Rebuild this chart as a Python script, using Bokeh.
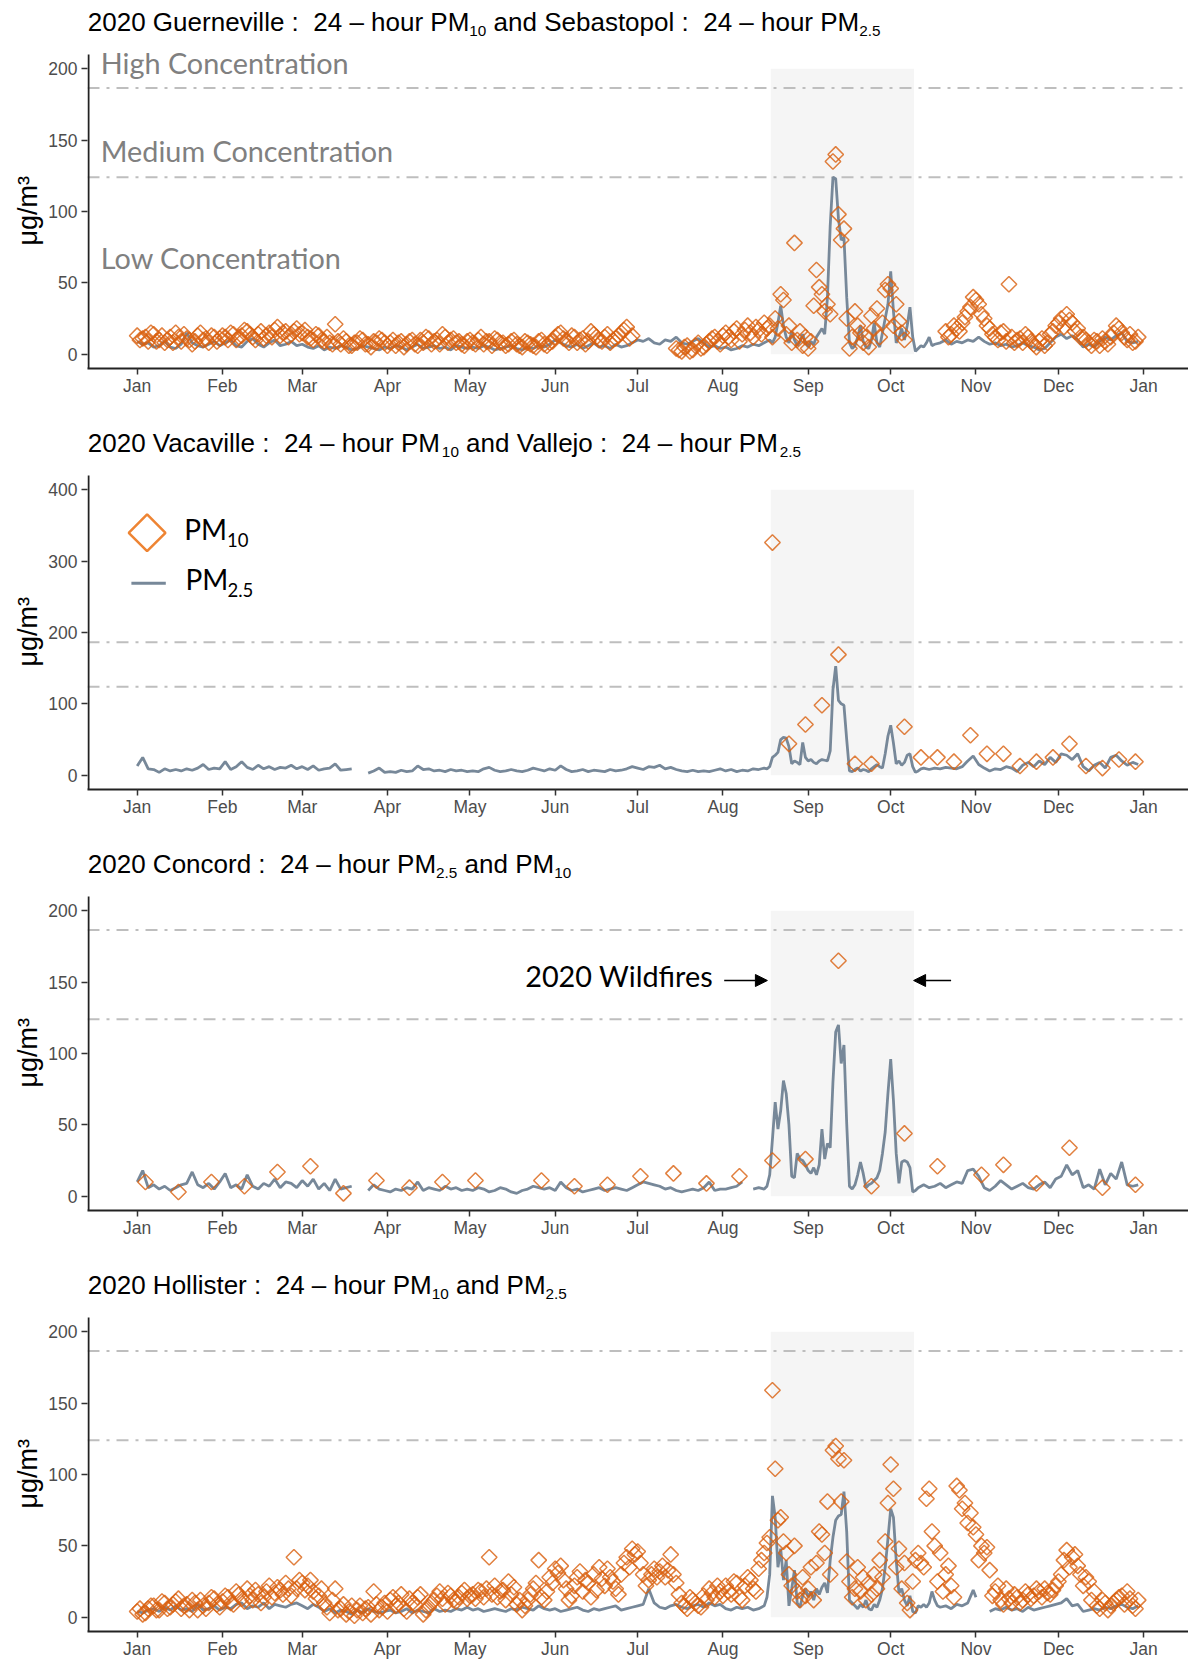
import math
from bokeh.plotting import figure
from bokeh.layouts import column
from bokeh.models import Range1d, Span, BoxAnnotation, Label, Arrow, NormalHead, FixedTicker
from bokeh.embed import file_html
from bokeh.resources import INLINE

NAN = float("nan")

# ---------------- axis categories / reference values ----------------
month_start_days = [0, 31, 60, 91, 121, 152, 182, 213, 244, 274, 305, 335, 366]
month_labels = ["Jan", "Feb", "Mar", "Apr", "May", "Jun", "Jul", "Aug", "Sep", "Oct", "Nov", "Dec", "Jan"]
ticks_200 = [0, 50, 100, 150, 200]
ticks_400 = [0, 100, 200, 300, 400]
high_threshold = 186.5
medium_threshold = 124.0
wildfire_start_day = 230.4
wildfire_end_day = 282.5

# ---------------- series: (day of year 2020, ug/m3) ----------------
sebastopol_pm25 = [
    (0, 9), (2, 7), (4, 8), (6, 5), (8, 6), (10, 9), (12, 5), (14, 4), (16, 7), (18, 15), (20, 8), (22, 6), (24, 5), (26, 7), (28, 9), (30, 6),
    (32, 8), (34, 10), (36, 6), (38, 5), (40, 9), (42, 11), (44, 7), (46, 5), (48, 8), (50, 10), (52, 6), (54, 7), (56, 9), (58, 6),
    (60, 7), (62, 5), (64, 4), (66, 6), (68, 3), (70, 5), (72, 4), (74, 6), (76, 5), (78, 3), (80, 4), (82, 6), (84, 5), (86, 4), (88, 3), (90, 5),
    (92, 4), (94, 6), (96, 5), (98, 3), (100, 5), (102, 7), (104, 4), (106, 5), (108, 6), (110, 4), (112, 5), (114, 3), (116, 6), (118, 5), (120, 4),
    (122, 5), (124, 4), (126, 6), (128, 5), (130, 3), (132, 4), (134, 5), (136, 6), (138, 4), (140, 3), (142, 5), (144, 4), (146, 6), (148, 5), (150, 7),
    (152, 10), (154, 8), (156, 6), (158, 5), (160, 7), (162, 4), (164, 6), (166, 8), (168, 5), (170, 6), (172, 4), (174, 7), (176, 5), (178, 6), (180, 8),
    (182, 10), (184, 9), (186, 11), (188, 8), (190, 7), (192, 10), (194, 9), (196, 12), (198, 8), (200, 7), (202, 9), (204, 11), (206, 8), (208, 5), (210, 6), (212, 4),
    (214, 5), (216, 3), (218, 4), (220, 6), (222, 5), (224, 7), (226, 6), (228, 8),
    (229, 9), (230, 10), (231, 8), (232, 12), (233, 22), (234, 34), (235, 20), (236, 12), (237, 8), (238, 16), (239, 10), (240, 6), (241, 9), (242, 14),
    (243, 8), (244, 5), (245, 9), (246, 7), (247, 12), (248, 15), (249, 18), (250, 14), (251, 40), (252, 90), (253, 124), (254, 123), (255, 95), (256, 80),
    (257, 82), (258, 40), (259, 8), (260, 4), (261, 6), (262, 12), (263, 20), (264, 9), (265, 5), (266, 4), (267, 10), (268, 22), (269, 8), (270, 5),
    (271, 15), (272, 25), (273, 35), (274, 58), (275, 30), (276, 8), (277, 12), (278, 18), (279, 10), (280, 20), (281, 33), (282, 12), (283, 2), (284, 4),
    (285, 6), (286, 5), (287, 8), (288, 12), (289, 6), (290, 7),
    (292, 8), (294, 10), (296, 7), (298, 9), (300, 8), (302, 10), (304, 9), (306, 12), (308, 9), (310, 7), (312, 8), (314, 6), (316, 7), (318, 5),
    (320, 6), (322, 8), (324, 6), (326, 5), (328, 3), (330, 4), (332, 8), (334, 12), (336, 14), (338, 11), (340, 13), (342, 10), (344, 5), (346, 7),
    (348, 5), (350, 9), (352, 12), (354, 10), (356, 13), (358, 15), (360, 9), (362, 8), (364, 9),
]

guerneville_pm10 = [
    (0, 13), (2, 11), (4, 9), (6, 14), (8, 10), (10, 8), (12, 12), (14, 15), (16, 9), (18, 11), (20, 7), (22, 13), (24, 10), (26, 8), (28, 12), (30, 11),
    (32, 12), (34, 15), (36, 10), (38, 13), (40, 16), (42, 12), (44, 14), (46, 11), (48, 15), (50, 17), (52, 13), (54, 16), (56, 14), (58, 18),
    (60, 15), (62, 12), (64, 10), (66, 13), (68, 9), (70, 8), (72, 21), (74, 7), (76, 9), (78, 6), (80, 8), (82, 10), (84, 7), (86, 9), (88, 11), (90, 8),
    (92, 8), (94, 6), (96, 9), (98, 7), (100, 10), (102, 6), (104, 8), (106, 11), (108, 9), (110, 7), (112, 12), (114, 10), (116, 8), (118, 7), (120, 9),
    (122, 8), (124, 10), (126, 7), (128, 9), (130, 11), (132, 8), (134, 6), (136, 9), (138, 7), (140, 5), (142, 8), (144, 6), (146, 9), (148, 7), (150, 8),
    (152, 12), (154, 15), (156, 10), (158, 13), (160, 8), (162, 11), (164, 9), (166, 14), (168, 10), (170, 12), (172, 8), (174, 11), (176, 15), (178, 19), (180, 13),
    (196, 4), (198, 2), (200, 6), (202, 3), (204, 8), (206, 5), (208, 9), (210, 12), (212, 7),
    (214, 15), (216, 10), (218, 18), (220, 14), (222, 20), (224, 12), (226, 17), (228, 22),
    (230, 20), (231, 12), (232, 25), (233, 18), (234, 42), (235, 38), (236, 14), (237, 20), (238, 8), (239, 78), (240, 10), (241, 16), (242, 6), (243, 12),
    (244, 4), (245, 9), (246, 34), (247, 59), (248, 47), (249, 42), (250, 30), (251, 35), (252, 28), (253, 135), (254, 140), (255, 98), (256, 80), (257, 88),
    (258, 25), (259, 4), (260, 12), (261, 30), (262, 20), (263, 15), (264, 8), (265, 12), (266, 5), (267, 27), (268, 18), (269, 32), (270, 12), (271, 22),
    (272, 45), (273, 49), (274, 46), (275, 20), (276, 35), (277, 23), (278, 15), (279, 10),
    (294, 16), (296, 14), (298, 18), (300, 22), (301, 26), (302, 30), (303, 33), (304, 40), (305, 38), (306, 35), (307, 28), (308, 25), (310, 18), (312, 12),
    (314, 15), (316, 9), (317, 49), (318, 12), (320, 10), (322, 8), (324, 12), (326, 7), (328, 9), (330, 6), (332, 14), (334, 20), (336, 25), (338, 28),
    (340, 22), (342, 18), (344, 12), (346, 8), (348, 10), (350, 6), (352, 9), (354, 12), (356, 20), (358, 15), (360, 10), (362, 8), (364, 12),
]

guerneville_pm10_odd_days = [
    (1, 10), (3, 12), (5, 15), (7, 9), (9, 13), (11, 10), (13, 8), (15, 12), (17, 14), (19, 10), (21, 9), (23, 15), (25, 11), (27, 13), (29, 9),
    (31, 13), (33, 10), (35, 14), (37, 12), (39, 17), (41, 14), (43, 10), (45, 16), (47, 13), (49, 12), (51, 19), (53, 15), (55, 12), (57, 16), (59, 14),
    (61, 17), (63, 11), (65, 14), (67, 10), (69, 12), (71, 7), (73, 9), (75, 11), (77, 6), (79, 8), (81, 11), (83, 7), (85, 5), (87, 8), (89, 10),
    (91, 6), (93, 10), (95, 8), (97, 5), (99, 9), (101, 7), (103, 10), (105, 12), (107, 7), (109, 10), (111, 14), (113, 8), (115, 11), (117, 9), (119, 6),
    (121, 10), (123, 7), (125, 12), (127, 9), (129, 6), (131, 10), (133, 8), (135, 7), (137, 10), (139, 6), (141, 9), (143, 7), (145, 5), (147, 10), (149, 6),
    (151, 9), (153, 14), (155, 11), (157, 8), (159, 12), (161, 10), (163, 7), (165, 16), (167, 12), (169, 9), (171, 14), (173, 10), (175, 13), (177, 17), (179, 11),
    (197, 3), (199, 5), (201, 2), (203, 6), (205, 4), (207, 7), (209, 11), (211, 9), (213, 13),
    (215, 12), (217, 16), (219, 9), (221, 17), (223, 15), (225, 19), (227, 14), (229, 18),
    (295, 12), (297, 20), (299, 16), (309, 20), (311, 14), (313, 10), (315, 16), (319, 8), (321, 11), (323, 14), (325, 9), (327, 5), (329, 11), (331, 8),
    (333, 16), (335, 22), (337, 19), (339, 24), (341, 16), (343, 12), (345, 10), (347, 6), (349, 9), (351, 11), (353, 7), (355, 15), (357, 18), (359, 12),
    (361, 14), (363, 9),
]

vallejo_pm25 = [
    (0, 13), (2, 25), (4, 9), (6, 8), (8, 4), (10, 9), (12, 6), (14, 8), (16, 6), (18, 9), (20, 7), (22, 10), (24, 15), (26, 8), (28, 10), (30, 9),
    (32, 19), (34, 8), (36, 12), (38, 19), (40, 11), (42, 8), (44, 14), (46, 9), (48, 12), (50, 8), (52, 11), (54, 10), (56, 14), (58, 9),
    (60, 12), (62, 8), (64, 13), (66, 7), (68, 9), (70, 10), (72, 16), (74, 7), (76, 8), (78, 9), (80, NAN), (84, 3), (86, 6), (88, 10), (90, 4),
    (92, 5), (94, 4), (96, 7), (98, 5), (100, 6), (102, 13), (104, 8), (106, 9), (108, 6), (110, 7), (112, 5), (114, 8), (116, 6), (118, 7), (120, 5),
    (122, 6), (124, 5), (126, 9), (128, 11), (130, 7), (132, 5), (134, 6), (136, 8), (138, 6), (140, 5), (142, 7), (144, 10), (146, 8), (148, 6), (150, 9),
    (152, 7), (154, 13), (156, 8), (158, 5), (160, 6), (162, 8), (164, 5), (166, 7), (168, 6), (170, 5), (172, 8), (174, 6), (176, 7), (178, 9), (180, 12),
    (182, 10), (184, 8), (186, 12), (188, 11), (190, 14), (192, 9), (194, 11), (196, 8), (198, 6), (200, 5), (202, 7), (204, 5), (206, 6), (208, 5), (210, 7), (212, 9),
    (214, 6), (216, 8), (218, 5), (220, 7), (222, 6), (224, 9), (226, 8), (228, 10),
    (229, 9), (230, 12), (231, 25), (232, 28), (233, 32), (234, 50), (235, 53), (236, 52), (237, 40), (238, 16), (239, 20), (240, 18), (241, 15), (242, 46),
    (243, 25), (244, 20), (245, 22), (246, 18), (247, 16), (248, 20), (249, 22), (250, 21), (251, 20), (252, 34), (253, 120), (254, 153), (255, 105), (256, 100),
    (257, 98), (258, 50), (259, 6), (260, 5), (261, 8), (262, 10), (263, 6), (264, 8), (265, 7), (266, 5), (267, 9), (268, 12), (269, 15), (270, 12),
    (271, 10), (272, 30), (273, 55), (274, 70), (275, 45), (276, 16), (277, 20), (278, 14), (279, 18), (280, 28), (281, 30), (282, 12), (283, 4), (284, 6),
    (285, 9), (286, 10),
    (288, 8), (290, 10), (292, 9), (294, 11), (296, 10), (298, 9), (300, 12), (302, 20), (304, 27), (306, 15), (308, 10), (310, 6), (312, 9), (314, 8),
    (316, 12), (318, 10), (320, 5), (322, 14), (324, 18), (326, 12), (328, 20), (330, 15), (332, 25), (334, 18), (336, 30), (338, 28), (340, 22), (342, 30),
    (344, 12), (346, 6), (348, 14), (350, 18), (352, 10), (354, 25), (356, 28), (358, 20), (360, 14), (362, 18), (364, 15),
]

vacaville_pm10 = [
    (231, 326), (237, 44), (243, 71), (249, 98), (255, 169), (261, 16), (267, 16), (279, 68), (285, 25), (291, 25), (297, 19),
    (303, 56), (309, 30), (315, 30), (321, 13), (327, 19), (333, 25), (339, 44), (345, 13), (351, 10), (357, 22), (363, 19),
]

concord_pm25 = [
    (0, 10), (2, 18), (4, 6), (6, 8), (8, 5), (10, 7), (12, 4), (14, 6), (16, 8), (18, 9), (20, 17), (22, 8), (24, 6), (26, 9), (28, 5), (30, 10),
    (32, 16), (34, 6), (36, 8), (38, 5), (40, 15), (42, 7), (44, 5), (46, 9), (48, 7), (50, 12), (52, 6), (54, 10), (56, 9), (58, 6),
    (60, 11), (62, 7), (64, 12), (66, 5), (68, 9), (70, 4), (72, 12), (74, 5), (76, 6), (78, 7), (80, NAN), (84, 4), (86, 8), (88, 5), (90, 4),
    (92, 3), (94, 5), (96, 4), (98, 6), (100, 5), (102, 10), (104, 4), (106, 6), (108, 5), (110, 4), (112, 7), (114, 5), (116, 6), (118, 4), (120, 5),
    (122, 4), (124, 6), (126, 5), (128, 3), (130, 4), (132, 6), (134, 5), (136, 3), (138, 2), (140, 4), (142, 5), (144, 7), (146, 6), (148, 5), (150, 6),
    (152, 4), (154, 10), (156, 6), (158, 4), (160, 5), (162, 3), (164, 4), (166, 5), (168, 6), (170, 4), (172, 5), (174, 6), (176, 5), (178, 4), (180, 6),
    (182, 8), (184, 10), (186, 9), (188, 8), (190, 7), (192, 5), (194, 6), (196, 4), (198, 3), (200, 4), (202, 5), (204, 4), (206, 6), (208, 10), (210, 4), (212, 5),
    (214, 5), (216, 6), (218, 7), (220, 10), (222, NAN), (224, 5), (226, 6), (228, 5),
    (229, 7), (230, 15), (231, 40), (232, 66), (233, 47), (234, 60), (235, 81), (236, 72), (237, 50), (238, 14), (239, 13), (240, 30), (241, 26), (242, 25),
    (243, 22), (244, 18), (245, 16), (246, 20), (247, 15), (248, 22), (249, 47), (250, 26), (251, 37), (252, 34), (253, 80), (254, 115), (255, 120), (256, 93),
    (257, 106), (258, 51), (259, 7), (260, 5), (261, 8), (262, 15), (263, 24), (264, 16), (265, 6), (266, 8), (267, 9), (268, 11), (269, 13), (270, 18),
    (271, 30), (272, 45), (273, 72), (274, 96), (275, 67), (276, 30), (277, 9), (278, 24), (279, 25), (280, 24), (281, 20), (282, 3), (283, 4), (284, 6),
    (286, 8), (288, 6), (290, 7), (292, 9), (294, 6), (296, 8), (298, 10), (300, 9), (302, 18), (304, 19), (306, 14), (308, 6), (310, 4), (312, 7),
    (314, 11), (316, 8), (318, 5), (320, 7), (322, 9), (324, 6), (326, 5), (328, 8), (330, 10), (332, 6), (334, 12), (336, 14), (338, 22), (340, 15),
    (342, 18), (344, 6), (346, 8), (348, 5), (350, 19), (352, 8), (354, 16), (356, 12), (358, 24), (360, 8), (362, 7), (364, 8),
]

concord_pm10 = [
    (3, 10), (15, 3), (27, 10), (39, 7), (51, 17), (63, 21), (75, 2), (87, 11), (99, 6), (111, 10), (123, 11), (147, 11), (159, 7),
    (171, 8), (183, 14), (195, 16), (207, 9), (219, 14), (231, 25), (243, 26), (255, 165), (267, 7), (279, 44), (291, 21), (307, 15),
    (315, 22), (327, 9), (339, 34), (351, 6), (363, 8),
]

hollister_pm10 = [
    (0, 4), (2, 2), (4, 6), (6, 8), (8, 5), (10, 10), (12, 7), (14, 11), (16, 6), (18, 9), (20, 12), (22, 5), (24, 8), (26, 10), (28, 13), (30, 7),
    (32, 15), (34, 10), (36, 18), (38, 13), (40, 20), (42, 12), (44, 16), (46, 14), (48, 22), (50, 17), (52, 19), (54, 24), (56, 15), (57, 42), (58, 20),
    (60, 24), (62, 22), (64, 18), (66, 15), (68, 10), (70, 3), (72, 20), (74, 6), (76, 2), (78, 8), (80, 5), (82, 3), (84, 7), (86, 18), (88, 5), (90, 10),
    (92, 12), (94, 8), (96, 16), (98, 4), (100, 10), (102, 14), (104, 2), (106, 7), (108, 12), (110, 18), (112, 9), (114, 15), (116, 11), (118, 17), (120, 13),
    (122, 16), (124, 19), (126, 14), (128, 42), (130, 22), (132, 18), (134, 12), (136, 16), (138, 9), (140, 5), (142, 12), (144, 20), (146, 40), (148, 12), (150, 28),
    (152, 34), (154, 36), (156, 20), (158, 15), (160, 28), (162, 18), (164, 24), (166, 30), (168, 35), (170, 22), (172, 28), (174, 20), (176, 30), (178, 42), (180, 48),
    (182, 46), (184, 30), (186, 26), (188, 34), (190, 32), (192, 28), (194, 44), (196, 24), (198, 10), (200, 6), (202, 12), (204, 8), (206, 15), (208, 20), (210, 14), (212, 18),
    (214, 22), (216, 16), (218, 24), (220, 12), (222, 28), (224, 20), (226, 34), (228, 45),
    (229, 52), (230, 56), (231, 159), (232, 104), (233, 68), (234, 70), (235, 53), (236, 45), (237, 30), (238, 22), (239, 50), (240, 18), (241, 12), (242, 28),
    (243, 15), (244, 20), (245, 35), (246, 12), (247, 38), (248, 60), (249, 58), (250, 45), (251, 81), (252, 30), (253, 117), (254, 120), (255, 111), (256, 81),
    (257, 110), (258, 39), (259, 25), (260, 14), (261, 20), (262, 35), (263, 18), (264, 28), (265, 12), (266, 24), (267, 16), (268, 30), (269, 20), (270, 40),
    (271, 28), (272, 53), (273, 80), (274, 107), (275, 90), (276, 35), (277, 48), (278, 20), (279, 38), (280, 10), (281, 5), (282, 25),
    (283, 40), (284, 45), (285, 38), (286, 35), (287, 83), (288, 90), (289, 60), (290, 50), (291, 25), (292, 45), (293, 18), (294, 30), (295, 36), (296, 22),
    (297, 14), (298, 92), (299, 89), (300, 76), (301, 80), (302, 66), (303, 73), (304, 63), (305, 58), (306, 40), (307, 50), (308, 45), (309, 49), (310, 33),
    (312, 18), (314, 12), (316, 20), (318, 10), (320, 14), (322, 12), (324, 16), (326, 15), (328, 18), (330, 20), (332, 16), (334, 22), (336, 30), (338, 47),
    (340, 42), (342, 36), (344, 22), (346, 25), (348, 18), (350, 6), (352, 10), (354, 8), (356, 12), (358, 15), (360, 18), (362, 8), (364, 12),
]

hollister_pm10_odd_days = [
    (1, 6), (3, 3), (5, 8), (7, 5), (9, 11), (11, 6), (13, 9), (15, 13), (17, 8), (19, 5), (21, 10), (23, 12), (25, 6), (27, 14), (29, 9),
    (31, 11), (33, 14), (35, 9), (37, 16), (39, 11), (41, 15), (43, 19), (45, 10), (47, 18), (49, 14), (51, 21), (53, 16), (55, 20), (59, 26),
    (61, 19), (63, 26), (65, 13), (67, 20), (69, 7), (71, 12), (73, 5), (75, 9), (77, 4), (79, 1), (81, 8), (83, 6), (85, 2), (87, 9), (89, 7),
    (91, 4), (93, 14), (95, 10), (97, 6), (99, 13), (101, 9), (103, 16), (105, 5), (107, 10), (109, 15), (111, 13), (113, 17), (115, 12), (117, 14), (119, 19),
    (121, 15), (123, 13), (125, 18), (127, 20), (129, 16), (131, 14), (133, 19), (135, 25), (137, 21), (139, 12), (141, 8), (143, 16), (145, 24), (147, 14), (149, 18),
    (151, 24), (153, 31), (155, 26), (157, 12), (159, 22), (161, 32), (163, 26), (165, 14), (167, 19), (169, 27), (171, 34), (173, 25), (175, 16), (177, 38), (179, 35),
    (181, 44), (183, 38), (185, 22), (187, 30), (189, 28), (191, 36), (193, 33), (195, 30), (197, 16), (199, 8), (201, 14), (203, 10), (205, 7), (207, 12),
    (209, 17), (211, 22), (213, 15), (215, 18), (217, 25), (219, 14), (221, 22), (223, 26), (225, 18), (227, 40),
    (311, 15), (313, 22), (315, 9), (317, 13), (319, 16), (321, 10), (323, 18), (325, 13), (327, 20), (329, 14), (331, 17), (333, 19), (335, 25), (337, 40),
    (339, 35), (341, 44), (343, 30), (345, 28), (347, 12), (349, 8), (351, 12), (353, 5), (355, 10), (357, 14), (359, 9), (361, 13), (363, 6),
]

hollister_pm25 = [
    (0, 4), (2, 3), (4, 5), (6, 6), (8, 4), (10, 7), (12, 5), (14, 8), (16, 5), (18, 6), (20, 4), (22, 9), (24, 5), (26, 6), (28, 8), (30, 5),
    (32, 7), (34, 6), (36, 9), (38, 10), (40, 6), (42, 8), (44, 7), (46, 10), (48, 6), (50, 9), (52, 8), (54, 7), (56, 9), (58, 10),
    (60, 8), (62, 6), (64, 9), (66, 7), (68, 4), (70, 6), (72, 3), (74, 5), (76, 4), (78, 2), (80, 5), (82, 3), (84, 6), (86, 4), (88, 3), (90, 4),
    (92, 5), (94, 3), (96, 4), (98, 6), (100, 3), (102, 5), (104, 4), (106, 3), (108, 6), (110, 4), (112, 5), (114, 4), (116, 6), (118, 5), (120, 7),
    (122, 5), (124, 6), (126, 4), (128, 5), (130, 6), (132, 5), (134, 4), (136, 6), (138, 5), (140, 7), (142, 6), (144, 5), (146, 8), (148, 6), (150, 5),
    (152, 6), (154, 4), (156, 5), (158, 6), (160, 7), (162, 5), (164, 4), (166, 6), (168, 5), (170, 6), (172, 7), (174, 8), (176, 5), (178, 6), (180, 7),
    (182, 8), (184, 9), (186, 20), (188, 10), (190, 7), (192, 6), (194, 8), (196, 9), (198, 7), (200, 6), (202, 8), (204, 9), (206, 7), (208, 10), (210, 8), (212, 9),
    (214, 6), (216, 5), (218, 7), (220, 6), (222, 7), (224, 5), (226, 6), (228, 8),
    (229, 14), (230, 30), (231, 85), (232, 70), (233, 35), (234, 48), (235, 26), (236, 40), (237, 8), (238, 20), (239, 33), (240, 10), (241, 7), (242, 15),
    (243, 20), (244, 14), (245, 18), (246, 12), (247, 20), (248, 16), (249, 21), (250, 24), (251, 17), (252, 40), (253, 56), (254, 68), (255, 71), (256, 72),
    (257, 88), (258, 60), (259, 12), (260, 10), (261, 8), (262, 6), (263, 9), (264, 7), (265, 12), (266, 6), (267, 5), (268, 9), (269, 7), (270, 12),
    (271, 20), (272, 35), (273, 55), (274, 76), (275, 70), (276, 40), (277, 17), (278, 20), (279, 12), (280, 8), (281, 15), (282, 4), (283, 3), (284, 8),
    (285, 7), (286, 9), (287, 7), (288, 10), (289, 18), (290, 12), (291, 8),
    (292, 7), (294, 8), (296, 6), (298, 9), (300, 8), (302, 10), (304, 19), (305, 14), (307, NAN),
    (310, 4), (312, 6), (314, 5), (316, 7), (318, 5), (320, 6), (322, 4), (324, 7), (326, 5), (328, 6), (330, 7), (332, 8), (334, 9), (336, 10),
    (338, 13), (340, 8), (342, 9), (344, 4), (346, 5), (348, 6), (350, 5), (352, 7), (354, 6), (356, 8), (358, 9), (360, 7), (362, 6), (364, 8),
]

# ---------------- styling / layout ----------------
PM25_COLOR = "#778899"
PM10_COLOR = "#D9600F"
LEGEND_DIAMOND = "#EE8433"
FONT = "Liberation Sans"
NOTE_FONT = "Lato"

PAGE_W = 1188
FRAME_L = 87
TITLE_H = 54          # space above the data area (title strip, inside the frame)
FRAME_H = 314         # data area height
PX_PER_DAY = 2.75
X0 = (FRAME_L - 136.7) / PX_PER_DAY
X1 = X0 + (PAGE_W - FRAME_L) / PX_PER_DAY
TITLE_SIZE = 26.0
SUB_SIZE = 15.3

CW = {" ": 278, "\u00a0": 278, ":": 278, "\u2013": 556, ".": 278, "P": 667, "M": 833, "G": 778, "V": 667,
      "S": 667, "C": 722, "H": 722, "a": 556, "b": 556, "c": 500, "d": 556, "e": 556, "f": 278, "g": 556,
      "h": 556, "i": 222, "j": 222, "k": 500, "l": 222, "m": 833, "n": 556, "o": 556, "p": 556, "r": 333,
      "s": 500, "t": 278, "u": 556, "v": 500, "w": 722, "y": 500}


def tw(s, size):
    return sum(CW.get(ch, 556) for ch in s) * size / 1000.0


def px_x(px):
    return X0 + (px - FRAME_L) / PX_PER_DAY


def px_y(top, yr, py):
    ppu = FRAME_H / (yr[1] - yr[0])
    return yr[1] - (py - (top + TITLE_H)) / ppu


def split(series):
    return [d for d, v in series], [v for d, v in series]


def add_text(p, top, yr, x, baseline, text, font, size, color="black", align="left", k=0.35):
    # text is vertically centred; shift from the wanted baseline to the centre
    p.add_layout(Label(x=px_x(x), y=px_y(top, yr, baseline - k * size), text=text, text_font=font,
                       text_font_size=f"{size}px", text_color=color, text_baseline="middle",
                       text_align=align))


def make_panel(top, height, yr, yticks, ymax, title_chunks):
    ppu = FRAME_H / (yr[1] - yr[0])
    y_end = yr[1] + TITLE_H / ppu
    p = figure(width=PAGE_W, height=height, x_range=Range1d(X0, X1), y_range=Range1d(yr[0], y_end),
               output_backend="svg", toolbar_location=None,
               min_border_left=FRAME_L, min_border_right=0, min_border_top=0,
               min_border_bottom=height - TITLE_H - FRAME_H)
    p.outline_line_color = None
    p.grid.visible = False
    p.background_fill_color = "white"
    p.border_fill_color = "white"

    p.xaxis.ticker = FixedTicker(ticks=month_start_days)
    p.xaxis.major_label_overrides = {d: m for d, m in zip(month_start_days, month_labels)}
    p.yaxis.ticker = FixedTicker(ticks=yticks)
    # axis label is centred on the whole frame (incl. title strip): trailing no-break
    # spaces move the visible text down to the centre of the data area
    p.yaxis.axis_label = "\u03bcg/m\u00b3" + "\u00a0" * 7
    p.yaxis.axis_label_text_font = FONT
    p.yaxis.axis_label_text_font_size = "27px"
    p.yaxis.axis_label_text_font_style = "normal"
    p.yaxis.axis_label_text_color = "black"
    p.yaxis.axis_label_standoff = 2
    for ax in (p.xaxis, p.yaxis):
        ax.axis_line_color = "#222222"
        ax.axis_line_width = 2
        ax.major_tick_line_color = "#333333"
        ax.major_tick_line_width = 1.5
        ax.major_tick_in = 0
        ax.major_tick_out = 6
        ax.minor_tick_line_color = None
        ax.major_label_text_font = FONT
        ax.major_label_text_font_size = "17.5px"
        ax.major_label_text_color = "#4D4D4D"
    p.xaxis.major_label_standoff = 1
    p.yaxis.major_label_standoff = 4
    p.yaxis.axis_line_color = None
    # y axis line only over the data area (not the title strip)
    p.segment(x0=[X0 + 1.0 / PX_PER_DAY], y0=[yr[0]], x1=[X0 + 1.0 / PX_PER_DAY], y1=[yr[1]],
              line_color="#222222", line_width=2)

    p.add_layout(BoxAnnotation(left=wildfire_start_day, right=wildfire_end_day, bottom=0, top=ymax,
                               fill_color="#F5F5F5", fill_alpha=1.0, line_alpha=0, level="underlay"))
    for thr in (high_threshold, medium_threshold):
        p.add_layout(Span(location=thr, dimension="width", line_color="#BEBEBE", line_width=2,
                          line_dash="12 7 3 7", level="underlay"))

    # title made of text chunks with subscripts
    x = FRAME_L + 0.3
    base = top + 31
    for text, sub in title_chunks:
        size = SUB_SIZE if sub else TITLE_SIZE
        lead = len(text) - len(text.lstrip(" "))
        x += lead * 278 * size / 1000.0
        t = text.lstrip(" ")
        add_text(p, top, yr, x, base + (5 if sub else 0), t, FONT, size)
        x += tw(t, size)
    return p


def add_series(p, line_series, point_series):
    ld, lv = split(line_series)
    p.line(ld, lv, line_color=PM25_COLOR, line_width=2.8)
    if point_series:
        pd_, pv = split(point_series)
        p.scatter(pd_, pv, marker="square", angle=math.pi / 4, size=11, fill_color=None,
                  line_color=PM10_COLOR, line_alpha=0.8, line_width=1.5)


NB = "\u00a0"
tops = [0, 421, 842, 1263]
heights = [421, 421, 421, 398]
yr200 = (-10, 210)
yr400 = (-20, 420)

# Panel 1
p1 = make_panel(tops[0], heights[0], yr200, ticks_200, 200, [
    (f"2020 Guerneville :{NB} 24 \u2013 hour PM", False), ("10", True),
    (f" and Sebastopol :{NB} 24 \u2013 hour PM", False), ("2.5", True)])
add_series(p1, sebastopol_pm25, guerneville_pm10 + guerneville_pm10_odd_days)
for txt, by in (("High Concentration", 74), ("Medium Concentration", 161.7), ("Low Concentration", 269.3)):
    add_text(p1, tops[0], yr200, 100.3, by, txt, NOTE_FONT, 28.8, color="#808080", k=0.40)

# Panel 2
p2 = make_panel(tops[1], heights[1], yr400, ticks_400, 400, [
    (f"2020 Vacaville :{NB} 24 \u2013 hour PM", False), ("10", True),
    (f" and Vallejo :{NB} 24 \u2013 hour PM", False), ("2.5", True)])
add_series(p2, vallejo_pm25, vacaville_pm10)
# legend
p2.scatter([px_x(146.6)], [px_y(tops[1], yr400, 532.3)], marker="square", angle=math.pi / 4, size=26,
           fill_color=None, line_color=LEGEND_DIAMOND, line_width=2.5)
p2.line([px_x(130.9), px_x(165.3)], [px_y(tops[1], yr400, 582.7)] * 2, line_color=PM25_COLOR, line_width=3)
for txt, lx, ly, size in (("PM", 183.7, 540, 28), ("10", 226.6, 546.7, 18.5),
                          ("PM", 185.0, 590, 28), ("2.5", 227.0, 596.7, 18.5)):
    add_text(p2, tops[1], yr400, lx, ly, txt, NOTE_FONT, size, k=0.40)

# Panel 3
p3 = make_panel(tops[2], heights[2], yr200, ticks_200, 200, [
    (f"2020 Concord :{NB} 24 \u2013 hour PM", False), ("2.5", True),
    (" and PM", False), ("10", True)])
add_series(p3, concord_pm25, concord_pm10)
add_text(p3, tops[2], yr200, 712.5, 987.3, "2020 Wildfires", NOTE_FONT, 28.8, align="right", k=0.40)
ay = px_y(tops[2], yr200, 980)
p3.add_layout(Arrow(x_start=px_x(723.7), y_start=ay, x_end=px_x(766.9), y_end=ay, line_width=1.5,
                    end=NormalHead(size=12, fill_color="black", line_color="black")))
p3.add_layout(Arrow(x_start=px_x(950.6), y_start=ay, x_end=px_x(913.1), y_end=ay, line_width=1.5,
                    end=NormalHead(size=12, fill_color="black", line_color="black")))

# Panel 4
p4 = make_panel(tops[3], heights[3], yr200, ticks_200, 200, [
    (f"2020 Hollister :{NB} 24 \u2013 hour PM", False), ("10", True),
    (" and PM", False), ("2.5", True)])
add_series(p4, hollister_pm25, hollister_pm10 + hollister_pm10_odd_days)

layout = column(p1, p2, p3, p4, spacing=0)
open("out.html", "w").write(file_html(layout, INLINE))
